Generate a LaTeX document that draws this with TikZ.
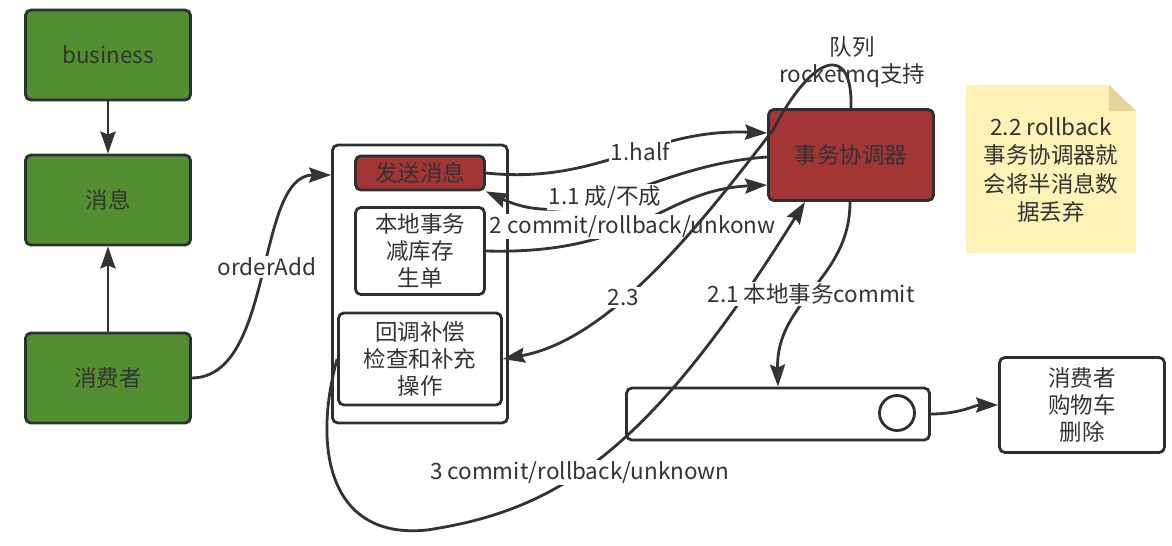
\documentclass[tikz,border=0pt]{standalone}
\usepackage{fontspec}
\setmainfont{Noto Sans CJK SC}
\usetikzlibrary{arrows.meta}

\definecolor{ink}{HTML}{333333}
\definecolor{edge}{HTML}{2B3036}
\definecolor{leaf}{HTML}{538F31}
\definecolor{brick}{HTML}{A33535}
\definecolor{memo}{HTML}{FEF2B6}
\definecolor{memofold}{HTML}{E6D497}

\tikzset{
    box/.style={draw=edge, line width=1.6pt, rounded corners=3pt, align=center, text=ink, inner sep=1pt},
    greenbox/.style={box, fill=leaf, minimum width=3.3cm, minimum height=1.8cm},
    redbox/.style={box, fill=brick},
    flow/.style={draw=ink, line width=1.6pt, -{Stealth[length=0.44cm,width=0.3cm,inset=0.06cm]}},
    tag/.style={fill=white, text=ink, inner sep=1pt},
}

\begin{document}
\begin{tikzpicture}[x=0.02cm, y=-0.02cm, font=\fontsize{12.8}{15.6}\selectfont]
        \useasboundingbox (0,0) rectangle (1172,545);

        \node[greenbox] (business) at (108,55) {business};
        \node[greenbox] (msg) at (108,200) {消息};
        \node[greenbox] (consumer) at (108,378) {消费者};

        \node[box, minimum width=3.5cm, minimum height=5.56cm] (app) at (420,284) {};
        \node[redbox, minimum width=2.58cm, minimum height=0.68cm] (send) at (420,173) {发送消息};
        \node[box, minimum width=2.58cm, minimum height=1.74cm] (local) at (420,251) {本地事务\\减库存\\生单};
        \node[box, minimum width=3.26cm, minimum height=1.84cm] (callback) at (420,359) {回调补偿\\检查和补充\\操作};

        \node[redbox, minimum width=3.3cm, minimum height=1.82cm] (coord) at (851,155) {事务协调器};
        \node[text=ink, align=center] (mq) at (852,62) {队列\\rocketmq支持};

        \node[box, minimum width=6.06cm, minimum height=1.04cm] (queue) at (778,414) {};
        \node[draw=edge, line width=1.6pt, circle, minimum size=0.7cm, inner sep=0pt] (slot) at (897,413) {};
        \node[box, minimum width=3.3cm, minimum height=1.9cm] (cart) at (1082,405) {消费者\\购物车\\删除};

        % note
        \fill[memo] (966,85) -- (1109,85) -- (1136,111) -- (1136,253) -- (966,253) -- cycle;
        \fill[memofold] (1109,85) -- (1136,111) -- (1109,111) -- cycle;
        \node[text=ink, align=center, font=\fontsize{12.8}{16.2}\selectfont] (rollback) at (1051,170) {2.2 rollback\\事务协调器就\\会将半消息数\\据丢弃};

        \draw[flow] (business) -- (msg);
        \draw[flow] (consumer) -- (msg);
        \draw[flow] (consumer.east) .. controls (275,377) and (255,175) .. ([yshift=2.18cm]app.west)
            node[tag, pos=.53] {orderAdd};

        \draw[flow] (send.east) .. controls (600,185) and (650,128) .. ([yshift=0.44cm]coord.west)
            node[tag, pos=.56] {1.half};
        \draw[flow] ([yshift=-0.04cm]coord.west) .. controls (650,165) and (580,235) .. (send.south east)
            node[tag, pos=.55] {1.1 成/不成};
        \draw[flow] (local.east) .. controls (640,255) and (660,190) .. ([yshift=-0.6cm]coord.west)
            node[tag, pos=.45] {2 commit/rollback/unkonw};

        \draw[flow] (coord.north) .. controls (853,45) and (815,50) .. (773,130)
            .. controls (700,225) and (610,340) .. (callback.east) node[tag, pos=.6] {2.3};
        \draw[flow] (callback.west) .. controls (312,450) and (330,540) .. (427,530)
            .. controls (560,510) and (650,450) .. ([xshift=-0.92cm]coord.south)
            node[tag, pos=.42] {3 commit/rollback/unknown};
        \draw[flow] ([xshift=-0.02cm]coord.south) .. controls (850,280) and (776,300) .. (queue.north)
            node[tag, pos=.52] {2.1 本地事务commit};
        \draw[flow] (queue.east) .. controls (960,414) and (975,405) .. (cart.west);
\end{tikzpicture}
\end{document}
